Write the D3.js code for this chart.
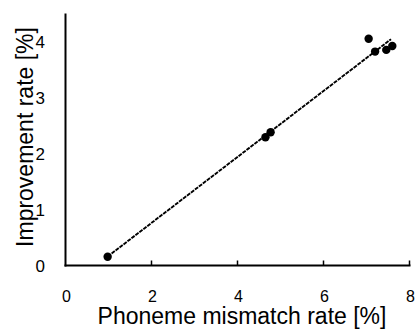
<!DOCTYPE html>
<html>
<head>
<meta charset="utf-8">
<script src="https://cdn.jsdelivr.net/npm/d3@7"></script>
<style>
  body { margin: 0; background: #fff; }
  svg { display: block; }
</style>
</head>
<body>
<svg></svg>
<script>
// data
const mismatchRate = [0.98, 4.65, 4.77, 7.05, 7.2, 7.46, 7.6];
const improvementRate = [0.155, 2.29, 2.38, 4.05, 3.82, 3.85, 3.92];
const xTicks = [0, 2, 4, 6, 8];
const yTicks = [0, 1, 2, 3, 4];

const W = 416, H = 329;
const svg = d3.select("svg").attr("width", W).attr("height", H);

const x = d3.scaleLinear().domain([0, 8]).range([65.5, 409.5]);
const y = d3.scaleLinear().domain([0, 4.5]).range([265.5, 13.5]);

const tickFont = "'Liberation Sans', Arial, sans-serif";

// linear trendline (least squares)
const mx = d3.mean(mismatchRate), my = d3.mean(improvementRate);
let sxy = 0, sxx = 0;
mismatchRate.forEach((v, i) => {
  sxy += (v - mx) * (improvementRate[i] - my);
  sxx += (v - mx) * (v - mx);
});
const slope = sxy / sxx;
const icept = my - slope * mx;
const x0 = d3.min(mismatchRate), x1 = d3.max(mismatchRate) - 0.03;

svg.append("line")
  .attr("x1", x(x0)).attr("y1", y(icept + slope * x0))
  .attr("x2", x(x1)).attr("y2", y(icept + slope * x1))
  .attr("stroke", "#000")
  .attr("stroke-width", 1.9)
  .attr("stroke-dasharray", "4,1");

// points
svg.selectAll("circle.pt")
  .data(mismatchRate)
  .enter().append("circle")
  .attr("class", "pt")
  .attr("cx", d => x(d))
  .attr("cy", (d, i) => y(improvementRate[i]))
  .attr("r", 4.2)
  .attr("fill", "#000");

// axes
svg.append("line")
  .attr("x1", x(0)).attr("x2", x(0))
  .attr("y1", y(4.5)).attr("y2", y(0) + 1)
  .attr("stroke", "#000").attr("stroke-width", 2);
svg.append("line")
  .attr("x1", x(0) - 1).attr("x2", x(8) + 1)
  .attr("y1", y(0)).attr("y2", y(0))
  .attr("stroke", "#000").attr("stroke-width", 2);

// x tick marks (pointing up)
svg.selectAll("line.xt")
  .data(xTicks.filter(d => d > 0))
  .enter().append("line")
  .attr("class", "xt")
  .attr("x1", d => x(d)).attr("x2", d => x(d))
  .attr("y1", y(0)).attr("y2", y(0) - 5)
  .attr("stroke", "#000").attr("stroke-width", 1.5);

// tick labels
svg.selectAll("text.xl")
  .data(xTicks)
  .enter().append("text")
  .attr("class", "xl")
  .attr("x", d => x(d) + 1)
  .attr("y", 302)
  .attr("text-anchor", "middle")
  .attr("font-family", tickFont)
  .attr("font-size", 16)
  .text(d => d);

svg.selectAll("text.yl")
  .data(yTicks)
  .enter().append("text")
  .attr("class", "yl")
  .attr("x", 45)
  .attr("y", d => y(d) + 6)
  .attr("text-anchor", "end")
  .attr("font-family", tickFont)
  .attr("font-size", 17)
  .text(d => d);

// axis titles
svg.append("text")
  .attr("x", 242)
  .attr("y", 324)
  .attr("text-anchor", "middle")
  .attr("font-family", "Arial, 'Liberation Sans', sans-serif")
  .attr("font-size", 23)
  .text("Phoneme mismatch rate [%]");

svg.append("text")
  .attr("transform", "translate(33,137) rotate(-90)")
  .attr("text-anchor", "middle")
  .attr("font-family", "Arial, 'Liberation Sans', sans-serif")
  .attr("font-size", 23)
  .text("Improvement rate [%]");
</script>
</body>
</html>
